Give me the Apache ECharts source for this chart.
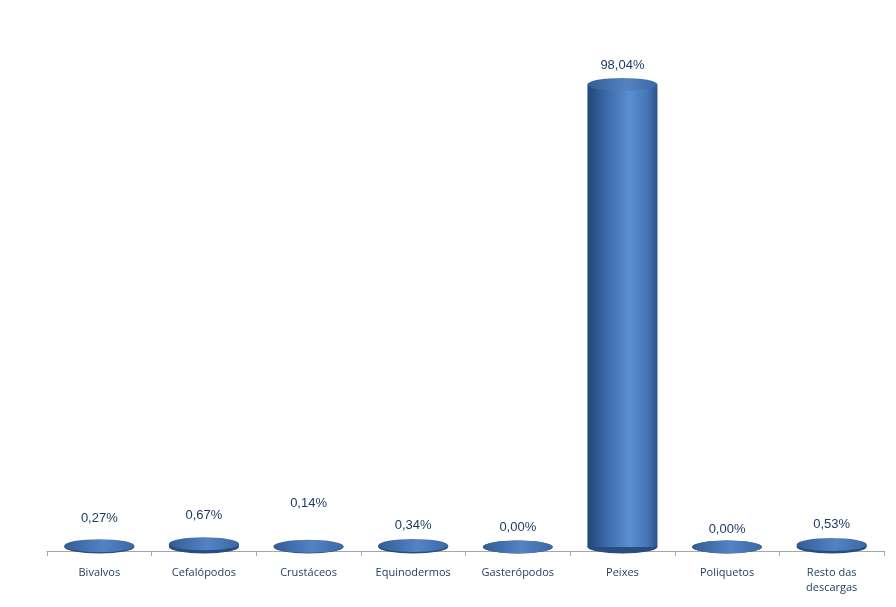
<!DOCTYPE html>
<html>
<head>
<meta charset="utf-8">
<script src="https://cdn.jsdelivr.net/npm/echarts@6/dist/echarts.min.js"></script>
<style>
  html, body { margin: 0; padding: 0; background: #fff; }
  #chart { width: 896px; height: 607px; }
</style>
</head>
<body>
<div id="chart"></div>
<script>
const categories = ['Bivalvos', 'Cefalópodos', 'Crustáceos', 'Equinodermos', 'Gasterópodos', 'Peixes', 'Poliquetos', 'Resto das\ndescargas']
const shares = [0.27, 0.67, 0.14, 0.34, 0.00, 98.04, 0.00, 0.53]

// small vertical nudges of the value labels (px), as placed in the original
const labelNudge = [-6, -7, -22, 1, 1, 2, 3, 1]

const barW = 70
const capH = 13
const fmt = v => v.toFixed(2).replace('.', ',') + '%'

const bodyColor = {
  type: 'linear', x: 0, y: 0, x2: 1, y2: 0,
  colorStops: [
    { offset: 0, color: '#1f4677' },
    { offset: 0.25, color: '#3a67a6' },
    { offset: 0.6, color: '#5b8fd4' },
    { offset: 0.85, color: '#4676b8' },
    { offset: 1, color: '#2b5288' }
  ]
}
const capColor = {
  type: 'linear', x: 0, y: 0, x2: 1, y2: 0,
  colorStops: [
    { offset: 0, color: '#325c95' },
    { offset: 0.55, color: '#5483c3' },
    { offset: 1, color: '#3b68a6' }
  ]
}

const chart = echarts.init(document.getElementById('chart'))
chart.setOption({
  animation: false,
  backgroundColor: '#ffffff',
  grid: { left: 47, right: 12, top: 28, bottom: 56 },
  xAxis: {
    type: 'category',
    data: categories,
    axisLine: { onZero: false, lineStyle: { color: '#a6a6a6', width: 1 } },
    axisTick: { show: true, length: 5, lineStyle: { color: '#a6a6a6' } },
    axisLabel: {
      color: '#243f60',
      fontFamily: 'Open Sans',
      fontSize: 11,
      margin: 14,
      lineHeight: 15,
      interval: 0
    }
  },
  yAxis: {
    type: 'value',
    min: -0.85,
    max: 110,
    show: false,
    splitLine: { show: false }
  },
  series: [
    {
      type: 'pictorialBar',
      data: shares,
      symbol: 'circle',
      symbolSize: [barW, capH],
      symbolOffset: [0, '50%'],
      itemStyle: { color: '#284d80' },
      z: 1
    },
    {
      type: 'bar',
      data: shares,
      barWidth: barW,
      itemStyle: { color: bodyColor },
      z: 2
    },
    {
      type: 'pictorialBar',
      data: shares.map((v, i) => ({
        value: v,
        label: { offset: [0, labelNudge[i]] }
      })),
      symbol: 'circle',
      symbolSize: [barW, capH],
      symbolPosition: 'end',
      symbolOffset: [0, '-50%'],
      itemStyle: { color: capColor },
      label: {
        show: true,
        position: 'top',
        distance: 8,
        color: '#1f3b63',
        fontFamily: 'Liberation Sans',
        fontSize: 13,
        formatter: p => fmt(p.value)
      },
      z: 3
    }
  ]
})
</script>
</body>
</html>
